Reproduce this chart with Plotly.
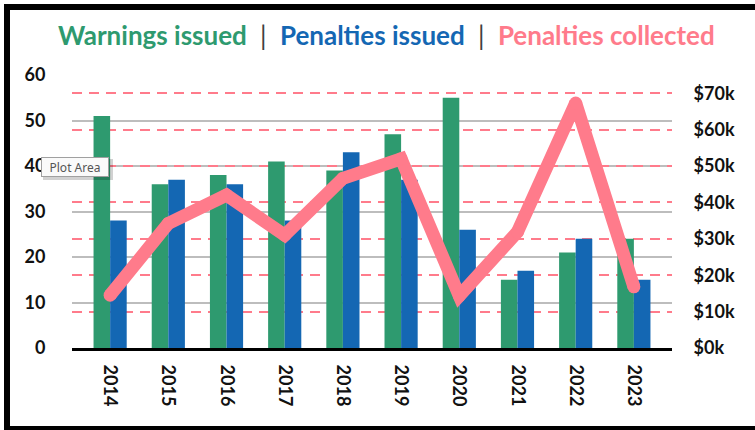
import plotly.graph_objects as go

years = ["2014", "2015", "2016", "2017", "2018", "2019", "2020", "2021", "2022", "2023"]
warnings_issued = [51, 36, 38, 41, 39, 47, 55, 15, 21, 24]
penalties_issued = [28, 37, 36, 28, 43, 37, 26, 17, 24, 15]
penalties_collected = [14500, 34200, 42000, 31000, 46600, 52000, 14300, 31900, 67300, 16800]

left_ticks = [0, 10, 20, 30, 40, 50, 60]
right_ticks = [0, 10000, 20000, 30000, 40000, 50000, 60000, 70000]
right_tick_text = ["$0k", "$10k", "$20k", "$30k", "$40k", "$50k", "$60k", "$70k"]

GREEN = "#2E9A6F"
BLUE = "#1467B3"
PINK = "#FF7B8B"

W, H = 755, 430
ML, MR, MT, MB = 72, 83, 75, 82
PW = W - ML - MR
PH = H - MT - MB


def px_x(px):
    return (px - ML) / PW


def px_y(py):
    return (H - MB - py) / PH


fig = go.Figure()
fig.add_trace(go.Bar(x=years, y=warnings_issued, name="Warnings issued",
                     marker=dict(color=GREEN, line=dict(width=0))))
fig.add_trace(go.Bar(x=years, y=penalties_issued, name="Penalties issued",
                     marker=dict(color=BLUE, line=dict(width=0))))
fig.add_trace(go.Scatter(x=years, y=penalties_collected, name="Penalties collected",
                         yaxis="y2", mode="lines+markers",
                         line=dict(color=PINK, width=13),
                         marker=dict(color=PINK, size=13)))

tick_font = dict(family="Lato", size=18, color="#111111", weight="bold")

fig.update_layout(
    width=W, height=H,
    margin=dict(l=ML, r=MR, t=MT, b=MB, pad=0),
    paper_bgcolor="white", plot_bgcolor="white",
    showlegend=False,
    barmode="group", bargap=0.43, bargroupgap=0,
    font=dict(family="Lato"),
    xaxis=dict(type="category", tickangle=90, showline=True, linecolor="black",
               linewidth=3, ticks="outside", ticklen=10, tickcolor="rgba(0,0,0,0)",
               tickfont=tick_font, showgrid=False, zeroline=False),
    yaxis=dict(range=[0, 60], tickvals=left_ticks, showgrid=True,
               gridcolor="#BDBDBD", gridwidth=1.5, zeroline=False,
               ticks="outside", ticklen=22, tickcolor="rgba(0,0,0,0)",
               tickfont=tick_font, showline=False),
    yaxis2=dict(range=[0, 75000], overlaying="y", side="right",
                tickvals=right_ticks, ticktext=right_tick_text,
                showgrid=True, gridcolor=PINK, gridwidth=1.8, griddash="10px,7px",
                zeroline=False, ticks="outside", ticklen=17,
                tickcolor="rgba(0,0,0,0)", tickfont=tick_font, showline=False),
)

title = (f"<b><span style='color:{GREEN}'>Warnings issued</span></b>"
         f"<span style='color:#404040'>  |  </span>"
         f"<b><span style='color:{BLUE}'>Penalties issued</span></b>"
         f"<span style='color:#404040'>  |  </span>"
         f"<b><span style='color:{PINK}'>Penalties collected</span></b>")
fig.add_annotation(text=title, xref="paper", yref="paper", x=px_x(386), y=px_y(35),
                   xanchor="center", yanchor="middle", showarrow=False,
                   font=dict(family="Lato", size=26))

# chart border
fig.add_shape(type="rect", xref="paper", yref="paper",
              x0=px_x(7), x1=px_x(770), y0=px_y(429), y1=px_y(7),
              line=dict(color="black", width=6), fillcolor="rgba(0,0,0,0)", layer="above")

# tooltip shadow + tooltip
fig.add_shape(type="rect", xref="paper", yref="paper",
              x0=px_x(43), x1=px_x(113), y0=px_y(180), y1=px_y(159),
              line=dict(width=0), fillcolor="rgba(0,0,0,0.18)", layer="above")
fig.add_annotation(text="Plot Area", xref="paper", yref="paper",
                   x=px_x(41), y=px_y(167), xanchor="left", yanchor="middle",
                   showarrow=False, width=64, height=16, align="center",
                   bgcolor="#FAFAFA", bordercolor="#A0A0A0", borderwidth=1, borderpad=1,
                   font=dict(family="Noto Sans", size=12, color="#555555"))

fig.write_html("out.html", config={"displayModeBar": False},
               post_script="document.body.style.margin='0';document.body.style.overflow='hidden';")
